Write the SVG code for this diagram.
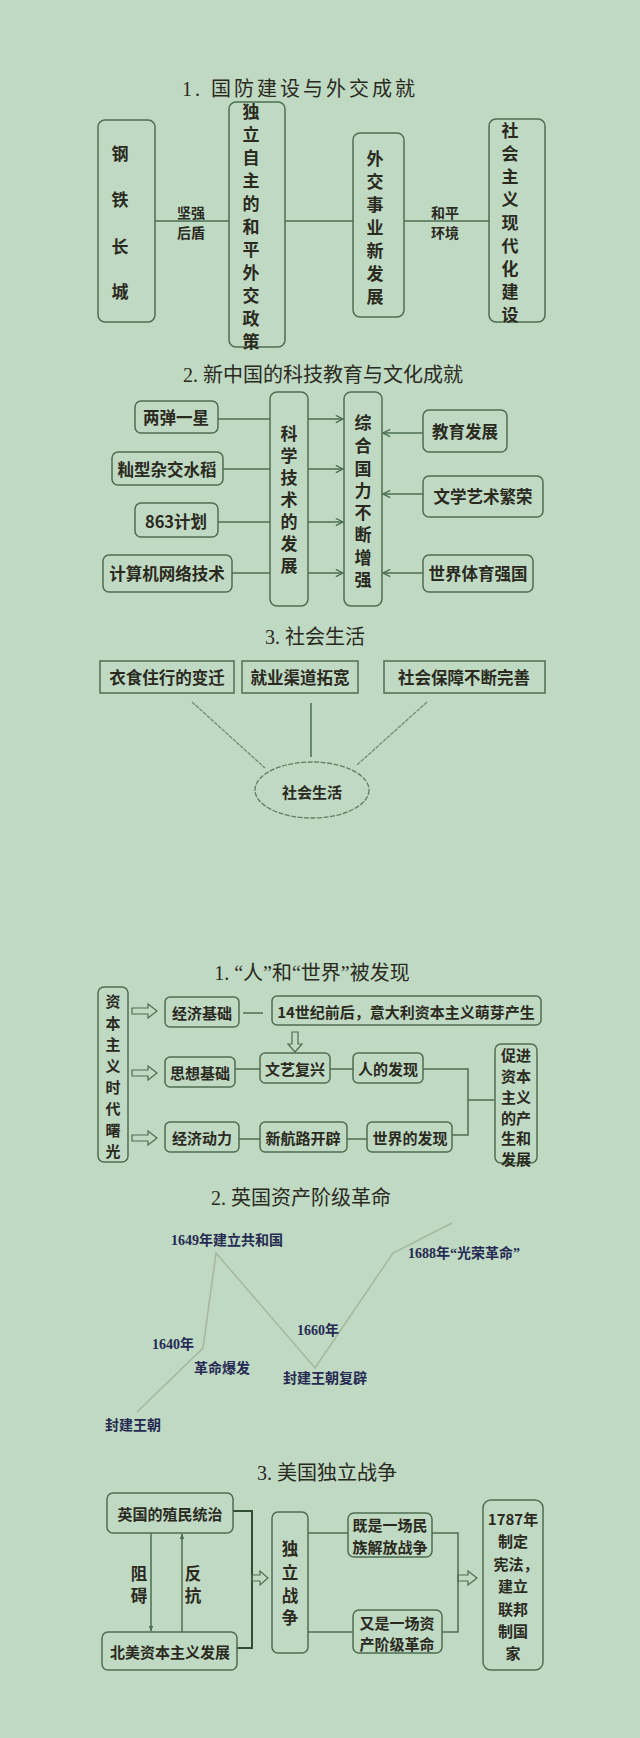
<svg xmlns="http://www.w3.org/2000/svg" width="640" height="1738" viewBox="0 0 640 1738">
<style>
text{font-family:"Noto Sans CJK SC","Noto Sans",sans-serif;fill:#2b2a1e;dominant-baseline:central;font-weight:bold}
.t{font-size:20px;text-anchor:middle;font-weight:normal;font-family:"Liberation Serif","Noto Sans CJK SC",serif}
.b{fill:none;stroke:#4d6e50;stroke-width:1.5}
.v{font-size:17px;text-anchor:middle}
.h{font-size:16.5px;text-anchor:middle}
.m{font-size:15px;text-anchor:middle}
.s{font-size:14px;text-anchor:middle}
.n{font-size:14px;fill:#262a52;font-family:"Liberation Serif","Noto Sans CJK SC",serif}
.c{fill:none;stroke:#4d6e50;stroke-width:1.5}
.ha{fill:none;stroke:#4d6e50;stroke-width:1.2}
</style>
<defs>
<marker id="ar" viewBox="0 0 10 10" refX="9" refY="5" markerWidth="9" markerHeight="9" markerUnits="userSpaceOnUse" orient="auto">
<path d="M1,1 L9,5 L1,9" fill="none" stroke="#4d6e50" stroke-width="1.5"/>
</marker>
<marker id="sm" viewBox="0 0 10 10" refX="9" refY="5" markerWidth="6" markerHeight="6" markerUnits="userSpaceOnUse" orient="auto">
<path d="M0,1 L10,5 L0,9 Z" fill="#4d6e50"/>
</marker>
</defs>
<rect width="640" height="1738" fill="#bfd9c3"/>

<!-- Section 1 -->
<text class="t" x="300" y="89" letter-spacing="3">1. 国防建设与外交成就</text>
<g id="connectors1">
<line class="c" x1="155" y1="221" x2="229" y2="221"/>
<line class="c" x1="285" y1="221" x2="353" y2="221"/>
<line class="c" x1="404" y1="221" x2="489" y2="221"/>
<text class="s" x="191" y="212">坚强</text>
<text class="s" x="191" y="232">后盾</text>
<text class="s" x="445" y="212">和平</text>
<text class="s" x="445" y="232">环境</text>
</g>
<g id="n-gangtie">
<rect class="b" x="98" y="120" width="57" height="202" rx="7"/>
<text class="v" x="120" y="152">钢</text>
<text class="v" x="120" y="198">铁</text>
<text class="v" x="120" y="245">长</text>
<text class="v" x="120" y="290">城</text>
</g>
<g id="n-duli">
<rect class="b" x="229" y="102" width="56" height="245" rx="7"/>
<text class="v" x="251" y="110">独</text>
<text class="v" x="251" y="133">立</text>
<text class="v" x="251" y="156">自</text>
<text class="v" x="251" y="179">主</text>
<text class="v" x="251" y="202">的</text>
<text class="v" x="251" y="225">和</text>
<text class="v" x="251" y="248">平</text>
<text class="v" x="251" y="271">外</text>
<text class="v" x="251" y="294">交</text>
<text class="v" x="251" y="317">政</text>
<text class="v" x="251" y="340">策</text>
</g>
<g id="n-waijiao">
<rect class="b" x="353" y="133" width="51" height="184" rx="7"/>
<text class="v" x="375" y="157">外</text>
<text class="v" x="375" y="180">交</text>
<text class="v" x="375" y="203">事</text>
<text class="v" x="375" y="226">业</text>
<text class="v" x="375" y="249">新</text>
<text class="v" x="375" y="272">发</text>
<text class="v" x="375" y="295">展</text>
</g>
<g id="n-shehui">
<rect class="b" x="489" y="119" width="56" height="203" rx="7"/>
<text class="v" x="510" y="129">社</text>
<text class="v" x="510" y="152">会</text>
<text class="v" x="510" y="175">主</text>
<text class="v" x="510" y="198">义</text>
<text class="v" x="510" y="221">现</text>
<text class="v" x="510" y="244">代</text>
<text class="v" x="510" y="267">化</text>
<text class="v" x="510" y="290">建</text>
<text class="v" x="510" y="313">设</text>
</g>

<!-- Section 2 -->
<text class="t" x="323" y="375">2. 新中国的科技教育与文化成就</text>
<g id="connectors2">
<line class="c" x1="218" y1="419" x2="270" y2="419"/>
<line class="c" x1="223" y1="469" x2="270" y2="469"/>
<line class="c" x1="218" y1="522" x2="270" y2="522"/>
<line class="c" x1="232" y1="573" x2="270" y2="573"/>
<line class="c" x1="308" y1="419" x2="343" y2="419" marker-end="url(#ar)"/>
<line class="c" x1="308" y1="469" x2="343" y2="469" marker-end="url(#ar)"/>
<line class="c" x1="308" y1="522" x2="343" y2="522" marker-end="url(#ar)"/>
<line class="c" x1="308" y1="573" x2="343" y2="573" marker-end="url(#ar)"/>
<line class="c" x1="423" y1="433" x2="383" y2="433" marker-end="url(#ar)"/>
<line class="c" x1="423" y1="494" x2="383" y2="494" marker-end="url(#ar)"/>
<line class="c" x1="423" y1="573" x2="383" y2="573" marker-end="url(#ar)"/>
</g>
<g id="n-kexue">
<rect class="b" x="270" y="392" width="38" height="214" rx="7"/>
<text class="v" x="289" y="432">科</text>
<text class="v" x="289" y="454">学</text>
<text class="v" x="289" y="476">技</text>
<text class="v" x="289" y="498">术</text>
<text class="v" x="289" y="520">的</text>
<text class="v" x="289" y="542">发</text>
<text class="v" x="289" y="564">展</text>
</g>
<g id="n-zonghe">
<rect class="b" x="344" y="392" width="38" height="214" rx="7"/>
<text class="v" x="363" y="421">综</text>
<text class="v" x="363" y="444">合</text>
<text class="v" x="363" y="467">国</text>
<text class="v" x="363" y="489">力</text>
<text class="v" x="363" y="511">不</text>
<text class="v" x="363" y="533">断</text>
<text class="v" x="363" y="556">增</text>
<text class="v" x="363" y="578">强</text>
</g>
<g id="n-liangdan"><rect class="b" x="135" y="401" width="83" height="32" rx="6"/><text class="h" x="176" y="417">两弹一星</text></g>
<g id="n-shuidao"><rect class="b" x="112" y="452" width="111" height="33" rx="6"/><text class="h" x="167" y="469">籼型杂交水稻</text></g>
<g id="n-863"><rect class="b" x="135" y="503" width="83" height="34" rx="6"/><text class="h" x="176" y="521">863计划</text></g>
<g id="n-jisuanji"><rect class="b" x="103" y="555" width="129" height="37" rx="6"/><text class="h" x="167" y="573">计算机网络技术</text></g>
<g id="n-jiaoyu"><rect class="b" x="423" y="410" width="84" height="42" rx="6"/><text class="h" x="465" y="431">教育发展</text></g>
<g id="n-wenxue"><rect class="b" x="423" y="476" width="120" height="41" rx="6"/><text class="h" x="483" y="496">文学艺术繁荣</text></g>
<g id="n-tiyu"><rect class="b" x="423" y="555" width="110" height="37" rx="6"/><text class="h" x="478" y="573">世界体育强国</text></g>

<!-- Section 3 -->
<text class="t" x="315" y="637">3. 社会生活</text>
<g id="connectors3">
<line x1="192" y1="702" x2="265" y2="768" stroke="#6f8f70" stroke-width="1.3" stroke-dasharray="4,1"/>
<line x1="311" y1="703" x2="311" y2="757" stroke="#4d6e50" stroke-width="1.5"/>
<line x1="427" y1="702" x2="357" y2="765" stroke="#6f8f70" stroke-width="1.3" stroke-dasharray="4,1"/>
</g>
<g id="n-yishi"><rect class="b" x="100" y="661" width="134" height="32"/><text class="h" x="167" y="677">衣食住行的变迁</text></g>
<g id="n-jiuye"><rect class="b" x="242" y="661" width="116" height="32"/><text class="h" x="300" y="677">就业渠道拓宽</text></g>
<g id="n-baozhang"><rect class="b" x="384" y="661" width="161" height="32"/><text class="h" x="464" y="677">社会保障不断完善</text></g>
<g id="n-shehuishenghuo"><ellipse cx="312" cy="790" rx="57" ry="28" fill="none" stroke="#5f7f60" stroke-width="1.3" stroke-dasharray="5,1.5"/><text class="m" x="312" y="791">社会生活</text></g>

<!-- Section 4 -->
<text class="t" x="312" y="973">1. “人”和“世界”被发现</text>
<g id="connectors4">
<path class="ha" d="M132,1008 H148 V1004 L157,1011 L148,1018 V1014 H132 Z"/>
<path class="ha" d="M132,1070 H148 V1066 L157,1073 L148,1080 V1076 H132 Z"/>
<path class="ha" d="M132,1135 H148 V1131 L157,1138 L148,1145 V1141 H132 Z"/>
<path class="ha" d="M292,1032 V1044 H288 L295,1052 L302,1044 H298 V1032 Z"/>
<line class="c" x1="243" y1="1013" x2="263" y2="1013"/>
<line class="c" x1="235" y1="1069" x2="260" y2="1069"/>
<line class="c" x1="330" y1="1069" x2="353" y2="1069"/>
<polyline class="c" points="423,1069 468,1069 468,1135 452,1135"/>
<line class="c" x1="468" y1="1100" x2="494" y2="1100"/>
<line class="c" x1="239" y1="1139" x2="260" y2="1139"/>
<line class="c" x1="347" y1="1139" x2="367" y2="1139"/>
</g>
<g id="n-shuguang">
<rect class="b" x="98" y="987" width="30" height="175" rx="6"/>
<text class="m" x="113" y="1000">资</text>
<text class="m" x="113" y="1022">本</text>
<text class="m" x="113" y="1043">主</text>
<text class="m" x="113" y="1065">义</text>
<text class="m" x="113" y="1086">时</text>
<text class="m" x="113" y="1107">代</text>
<text class="m" x="113" y="1129">曙</text>
<text class="m" x="113" y="1150">光</text>
</g>
<g id="n-jingji"><rect class="b" x="165" y="997" width="74" height="30" rx="5"/><text class="m" x="202" y="1012">经济基础</text></g>
<g id="n-14shiji"><rect class="b" x="272" y="996" width="269" height="29" rx="5"/><text class="m" x="406" y="1011">14世纪前后，意大利资本主义萌芽产生</text></g>
<g id="n-sixiang"><rect class="b" x="165" y="1057" width="70" height="30" rx="5"/><text class="m" x="200" y="1072">思想基础</text></g>
<g id="n-wenyi"><rect class="b" x="260" y="1053" width="70" height="30" rx="5"/><text class="m" x="295" y="1068">文艺复兴</text></g>
<g id="n-ren"><rect class="b" x="353" y="1053" width="70" height="30" rx="5"/><text class="m" x="388" y="1068">人的发现</text></g>
<g id="n-dongli"><rect class="b" x="165" y="1122" width="74" height="30" rx="5"/><text class="m" x="202" y="1137">经济动力</text></g>
<g id="n-hanglu"><rect class="b" x="260" y="1122" width="87" height="30" rx="5"/><text class="m" x="303" y="1137">新航路开辟</text></g>
<g id="n-shijie"><rect class="b" x="367" y="1122" width="85" height="30" rx="5"/><text class="m" x="410" y="1137">世界的发现</text></g>
<g id="n-cujin">
<rect class="b" x="495" y="1044" width="42" height="119" rx="6"/>
<text class="m" x="516" y="1054">促进</text>
<text class="m" x="516" y="1075">资本</text>
<text class="m" x="516" y="1096">主义</text>
<text class="m" x="516" y="1117">的产</text>
<text class="m" x="516" y="1137">生和</text>
<text class="m" x="516" y="1158">发展</text>
</g>

<!-- Section 5 -->
<text class="t" x="301" y="1198">2. 英国资产阶级革命</text>
<g id="connectors5">
<polyline points="137,1412 203,1348 216,1253 315,1368 393,1253 452,1223" fill="none" stroke="#a7b89f" stroke-width="1.6"/>
</g>
<g id="n-1649"><text class="n" x="171" y="1240">1649年建立共和国</text></g>
<g id="n-1688"><text class="n" x="408" y="1253">1688年“光荣革命”</text></g>
<g id="n-1640"><text class="n" x="152" y="1344">1640年</text></g>
<g id="n-baofa"><text class="n" x="194" y="1368">革命爆发</text></g>
<g id="n-1660"><text class="n" x="297" y="1330">1660年</text></g>
<g id="n-fubi"><text class="n" x="283" y="1378">封建王朝复辟</text></g>
<g id="n-fengjian"><text class="n" x="105" y="1425">封建王朝</text></g>

<!-- Section 6 -->
<text class="t" x="327" y="1473">3. 美国独立战争</text>
<g id="connectors6">
<line class="c" x1="151" y1="1533" x2="151" y2="1631" marker-end="url(#sm)"/>
<line class="c" x1="182" y1="1632" x2="182" y2="1534" marker-end="url(#sm)"/>
<text class="h" x="139" y="1573">阻</text>
<text class="h" x="139" y="1595">碍</text>
<text class="h" x="193" y="1573">反</text>
<text class="h" x="193" y="1595">抗</text>
<polyline points="233,1511 252,1511 252,1648 237,1648" fill="none" stroke="#2f4f33" stroke-width="2"/>
<path class="ha" d="M252,1575 H260 V1571 L268,1578 L260,1585 V1581 H252 Z"/>
<line class="c" x1="308" y1="1533" x2="348" y2="1533"/>
<line class="c" x1="308" y1="1632" x2="353" y2="1632"/>
<polyline class="c" points="432,1533 458,1533 458,1632 442,1632"/>
<path class="ha" d="M458,1575 H468 V1571 L477,1578 L468,1585 V1581 H458 Z"/>
</g>
<g id="n-zhimin"><rect class="b" x="107" y="1493" width="126" height="40" rx="6"/><text class="m" x="170" y="1513">英国的殖民统治</text></g>
<g id="n-beimei"><rect class="b" x="102" y="1632" width="135" height="38" rx="6"/><text class="m" x="170" y="1651">北美资本主义发展</text></g>
<g id="n-dulizhanzheng">
<rect class="b" x="272" y="1512" width="36" height="141" rx="6"/>
<text class="h" x="290" y="1548">独</text>
<text class="h" x="290" y="1572">立</text>
<text class="h" x="290" y="1595">战</text>
<text class="h" x="290" y="1617">争</text>
</g>
<g id="n-jishi"><rect class="b" x="348" y="1513" width="84" height="44" rx="6"/><text class="m" x="390" y="1524">既是一场民</text><text class="m" x="390" y="1546">族解放战争</text></g>
<g id="n-youshi"><rect class="b" x="353" y="1610" width="89" height="43" rx="6"/><text class="m" x="397" y="1622">又是一场资</text><text class="m" x="397" y="1643">产阶级革命</text></g>
<g id="n-1787">
<rect class="b" x="483" y="1500" width="60" height="170" rx="8"/>
<text class="m" x="513" y="1518">1787年</text>
<text class="m" x="513" y="1540">制定</text>
<text class="m" x="516" y="1563">宪法，</text>
<text class="m" x="513" y="1585">建立</text>
<text class="m" x="513" y="1608">联邦</text>
<text class="m" x="513" y="1630">制国</text>
<text class="m" x="513" y="1652">家</text>
</g>
</svg>
